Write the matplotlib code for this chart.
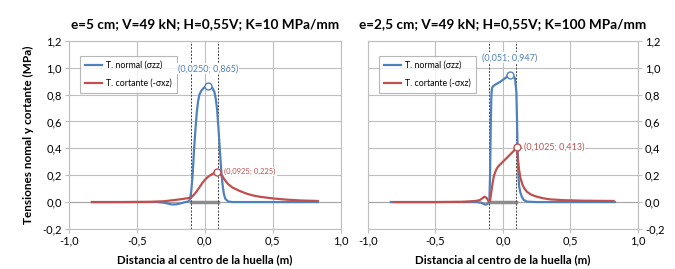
import matplotlib
matplotlib.use("Agg")
import matplotlib.pyplot as plt
from matplotlib.ticker import FuncFormatter, MultipleLocator

plt.rcParams['font.family'] = ['Lato', 'DejaVu Sans']

# datos
titulos = ["e=5 cm; V=49 kN; H=0,55V; K=10 MPa/mm",
           "e=2,5 cm; V=49 kN; H=0,55V; K=100 MPa/mm"]

x_normal_1 = [-0.83, -0.5, -0.35, -0.3, -0.27, -0.24, -0.21, -0.18, -0.15, -0.12, -0.11,
              -0.10, -0.09, -0.08, -0.07, -0.06, -0.05, -0.04, -0.025, -0.01, 0.0, 0.015,
              0.025, 0.04, 0.055, 0.07, 0.08, 0.09, 0.10, 0.11, 0.12, 0.13, 0.14, 0.15,
              0.17, 0.2, 0.5, 0.83]
y_normal_1 = [0.0, 0.0, 0.0, -0.005, -0.012, -0.018, -0.017, -0.01, -0.002, 0.005, 0.02,
              0.08, 0.2, 0.38, 0.53, 0.66, 0.75, 0.80, 0.83, 0.848, 0.856, 0.863,
              0.865, 0.862, 0.85, 0.82, 0.77, 0.69, 0.55, 0.39, 0.24, 0.13, 0.06, 0.025,
              0.005, 0.0, 0.0, 0.0]

x_cort_1 = [-0.83, -0.6, -0.4, -0.3, -0.25, -0.2, -0.15, -0.12, -0.10, -0.08, -0.06, -0.04,
            -0.02, 0.0, 0.02, 0.04, 0.06, 0.08, 0.0925, 0.11, 0.13, 0.15, 0.17, 0.2, 0.25,
            0.3, 0.35, 0.4, 0.5, 0.6, 0.7, 0.83]
y_cort_1 = [0.0, 0.0, 0.002, 0.006, 0.012, 0.018, 0.025, 0.03, 0.035, 0.055, 0.08, 0.11,
            0.14, 0.165, 0.185, 0.2, 0.212, 0.221, 0.225, 0.215, 0.19, 0.16, 0.135, 0.11, 0.085,
            0.065, 0.05, 0.04, 0.027, 0.018, 0.012, 0.008]

x_normal_2 = [-0.83, -0.2, -0.16, -0.14, -0.125, -0.11, -0.1, -0.095, -0.09, -0.085, -0.08,
              -0.07, -0.05, -0.02, 0.0, 0.02, 0.04, 0.051, 0.065, 0.08, 0.09, 0.1, 0.105,
              0.11, 0.115, 0.12, 0.13, 0.14, 0.155, 0.18, 0.25, 0.83]
y_normal_2 = [0.0, 0.0, -0.005, -0.015, -0.02, -0.01, 0.0, 0.2, 0.55, 0.8, 0.85,
              0.865, 0.878, 0.895, 0.91, 0.925, 0.94, 0.947, 0.945, 0.935, 0.92, 0.82, 0.6,
              0.35, 0.2, 0.12, 0.07, 0.04, 0.015, 0.003, 0.0, 0.0]

x_cort_2 = [-0.81, -0.5, -0.3, -0.2, -0.17, -0.15, -0.135, -0.12, -0.105, -0.095, -0.085,
            -0.075, -0.065, -0.05, -0.035, -0.02, 0.0, 0.02, 0.04, 0.06, 0.08, 0.095, 0.1025,
            0.11, 0.12, 0.13, 0.145, 0.16, 0.18, 0.21, 0.25, 0.3, 0.35, 0.45, 0.6, 0.82]
y_cort_2 = [0.0, 0.0, 0.002, 0.008, 0.015, 0.03, 0.04, 0.03, 0.005, 0.01, 0.08,
            0.15, 0.2, 0.24, 0.265, 0.28, 0.3, 0.32, 0.34, 0.36, 0.38, 0.4, 0.413,
            0.33, 0.24, 0.18, 0.13, 0.1, 0.075, 0.055, 0.04, 0.028, 0.02, 0.014, 0.01, 0.008]

# puntos marcados y sus etiquetas
pico_normal = [(0.025, 0.865, "(0,0250; 0,865)"), (0.051, 0.947, "(0,051; 0,947)")]
pico_cort = [(0.0925, 0.225, "(0,0925; 0,225)"), (0.1025, 0.413, "(0,1025; 0,413)")]
huella = [-0.1, 0.1]

azul = '#4F81BD'
rojo = '#C0504D'
gris = '#BFBFBF'

def coma(v, pos):
    return ("%.1f" % v).replace('.', ',')

fig = plt.figure(figsize=(6.75, 2.69), dpi=100)
ax1 = fig.add_axes([0.102, 0.149, 0.403, 0.699])
ax2 = fig.add_axes([0.545, 0.149, 0.400, 0.699])

datos = [(x_normal_1, y_normal_1, x_cort_1, y_cort_1), (x_normal_2, y_normal_2, x_cort_2, y_cort_2)]

for i, ax in enumerate([ax1, ax2]):
    xn, yn, xc, yc = datos[i]
    ax.set_xlim(-1.0, 1.0)
    ax.set_ylim(-0.2, 1.2)
    ax.xaxis.set_major_locator(MultipleLocator(0.5))
    ax.yaxis.set_major_locator(MultipleLocator(0.2))
    ax.xaxis.set_major_formatter(FuncFormatter(coma))
    ax.yaxis.set_major_formatter(FuncFormatter(coma))
    ax.grid(True, color=gris, lw=0.8)
    ax.set_axisbelow(True)
    for s in ax.spines.values():
        s.set_color(gris)
        s.set_linewidth(0.8)
    ax.tick_params(axis='both', labelsize=8, color=gris, length=3, width=0.8, pad=2)
    ax.axhline(0, color='#A6A6A6', lw=0.8, zorder=1)
    ax.plot(huella, [0, 0], color='#8C8C8C', lw=2.5, zorder=2)
    for xv in huella:
        ax.axvline(xv, color='#404040', lw=0.7, ls=(0, (2, 1.5)), zorder=2)
    ax.plot(xn, yn, color=azul, lw=1.6, label='T. normal (σzz)', zorder=3)
    ax.plot(xc, yc, color=rojo, lw=1.6, label='T. cortante (-σxz)', zorder=4)

    leg = ax.legend(loc='upper left', bbox_to_anchor=(0.025, 0.945), fontsize=6.3,
                    frameon=True, fancybox=False, handlelength=1.9, borderpad=0.6,
                    labelspacing=1.0, handletextpad=0.5)
    leg.get_frame().set_edgecolor('#A6A6A6')
    leg.get_frame().set_linewidth(0.8)
    leg.set_zorder(6)

    px, py, txt = pico_normal[i]
    ax.plot(px, py, 'o', ms=5, mfc='white', mec=azul, mew=1.0, zorder=5)
    ax.annotate(txt, (px, py), xytext=(0, 9), textcoords='offset points', ha='center',
                va='bottom', color=azul, fontsize=6.5, zorder=7,
                bbox=dict(boxstyle='square,pad=0.1', fc='white', ec='none'))
    px, py, txt = pico_cort[i]
    ax.plot(px, py, 'o', ms=5, mfc='white', mec=rojo, mew=1.0, zorder=5)
    ax.annotate(txt, (px, py), xytext=(5, 0), textcoords='offset points', ha='left',
                va='center', color=rojo, fontsize=5.5 if i == 0 else 6.5, zorder=7,
                bbox=dict(boxstyle='square,pad=0.1', fc='white', ec='none'))

    ax.set_title(titulos[i], fontsize=9.8, fontweight='bold', pad=9)
    ax.set_xlabel('Distancia al centro de la huella (m)', fontsize=8.3, fontweight='bold', labelpad=5)

ax1.set_ylabel('Tensiones nomal y cortante (MPa)', fontsize=8.5, fontweight='bold', labelpad=6)
ax2.yaxis.tick_right()

fig.savefig('out.png', dpi=100)
